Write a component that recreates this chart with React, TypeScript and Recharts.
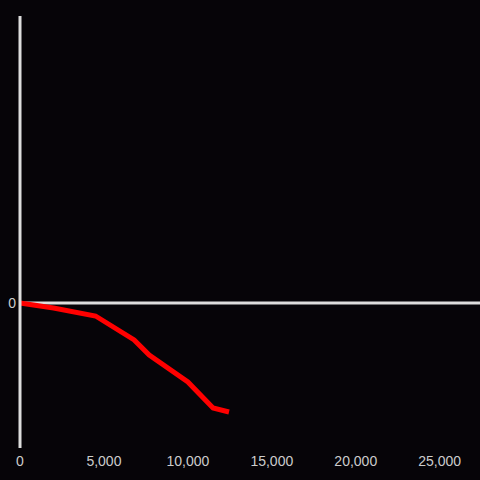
import { LineChart, Line, XAxis, YAxis, ReferenceLine } from 'recharts'

const xValues = [0, 2000, 4500, 6800, 7700, 10000, 11500, 12450]
const yValues = [0, -5, -13, -37, -52, -79, -105, -109]
const xTicks = [0, 5000, 10000, 15000, 20000, 25000]
const yTicks = [0]

const data = xValues.map((x, i) => ({ x, y: yValues[i] }))

const fmt = (v: number) => v.toLocaleString('en-US')

export default function App() {
  return (
    <div
      style={{
        position: 'fixed',
        top: 0,
        left: 0,
        width: 480,
        height: 480,
        background: '#060408',
        fontFamily: '"Liberation Sans", Arial, sans-serif',
      }}
    >
      <LineChart
        width={480}
        height={480}
        data={data}
        margin={{ top: 16, right: 0, left: 0, bottom: 0 }}
      >
        <XAxis
          type="number"
          dataKey="x"
          domain={[0, 27400]}
          ticks={xTicks}
          tickFormatter={fmt}
          axisLine={false}
          tickLine={false}
          height={32}
          tick={{ fill: '#cccccc', fontSize: 14 }}
          interval={0}
        />
        <YAxis
          type="number"
          domain={[-145, 287]}
          ticks={yTicks}
          width={20}
          axisLine={{ stroke: '#dddddd', strokeWidth: 3 }}
          tickLine={false}
          tickSize={0}
          tickMargin={4}
          tick={{ fill: '#cccccc', fontSize: 14 }}
        />
        <ReferenceLine y={0} stroke="#dddddd" strokeWidth={3} />
        <Line
          type="linear"
          dataKey="y"
          stroke="#ff0000"
          strokeWidth={5}
          dot={false}
          isAnimationActive={false}
        />
      </LineChart>
    </div>
  )
}
